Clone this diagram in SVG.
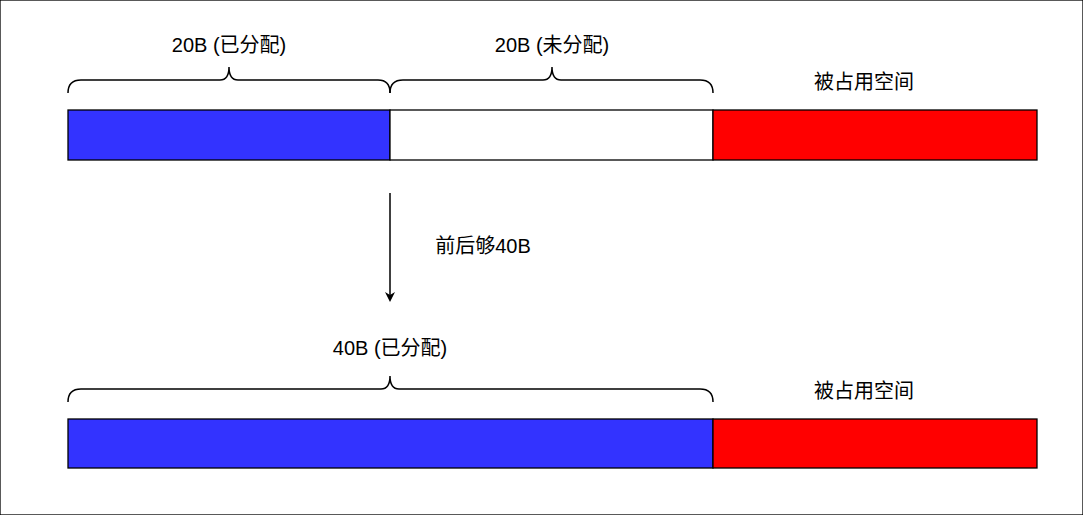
<svg xmlns="http://www.w3.org/2000/svg" width="1083" height="515" viewBox="0 0 1083 515">
<style>
text{font-family:"Liberation Sans","Noto Sans CJK SC",sans-serif;font-size:20px;fill:#000;text-anchor:middle}
.b{fill:none;stroke:#000;stroke-width:1.5}
rect{stroke:#000;stroke-width:1.3}
</style>
<defs><marker id="ah" markerWidth="10" markerHeight="10" refX="8" refY="5" orient="auto" markerUnits="userSpaceOnUse"><path d="M0,0 L10,5 L0,10 L3,5 Z" fill="#000"/></marker></defs>
<rect width="1083" height="515" fill="#fff" stroke="none"/>
<g id="n1"><rect x="68" y="110" width="322" height="50" fill="#3333ff"/></g>
<g id="n2"><rect x="390" y="110" width="323" height="50" fill="#fff"/></g>
<g id="n3"><rect x="713" y="110" width="324" height="50" fill="#ff0000"/></g>
<g id="n4"><rect x="68" y="419" width="645" height="49" fill="#3333ff"/></g>
<g id="n5"><rect x="713" y="419" width="324" height="49" fill="#ff0000"/></g>
<g id="braces">
<path class="b" d="M68,93 Q68,80 81,80 L220,80 Q229,80 229,67 Q229,80 238,80 L378,80 Q390,80 390,93"/>
<path class="b" d="M390,93 Q390,80 403,80 L543,80 Q552,80 552,67 Q552,80 561,80 L700,80 Q713,80 713,93"/>
<path class="b" d="M68,402 Q68,389 81,389 L381,389 Q390,389 390,376 Q390,389 399,389 L700,389 Q713,389 713,402"/>
</g>
<g id="connectors"><line x1="390" y1="193" x2="390" y2="300" stroke="#000" stroke-width="1.5" marker-end="url(#ah)"/></g>
<g id="labels">
<text x="229" y="52">20B (已分配)</text>
<text x="552" y="52">20B (未分配)</text>
<text x="864" y="89">被占用空间</text>
<text x="483" y="253">前后够40B</text>
<text x="390" y="355">40B (已分配)</text>
<text x="864" y="398">被占用空间</text>
</g>
</svg>
